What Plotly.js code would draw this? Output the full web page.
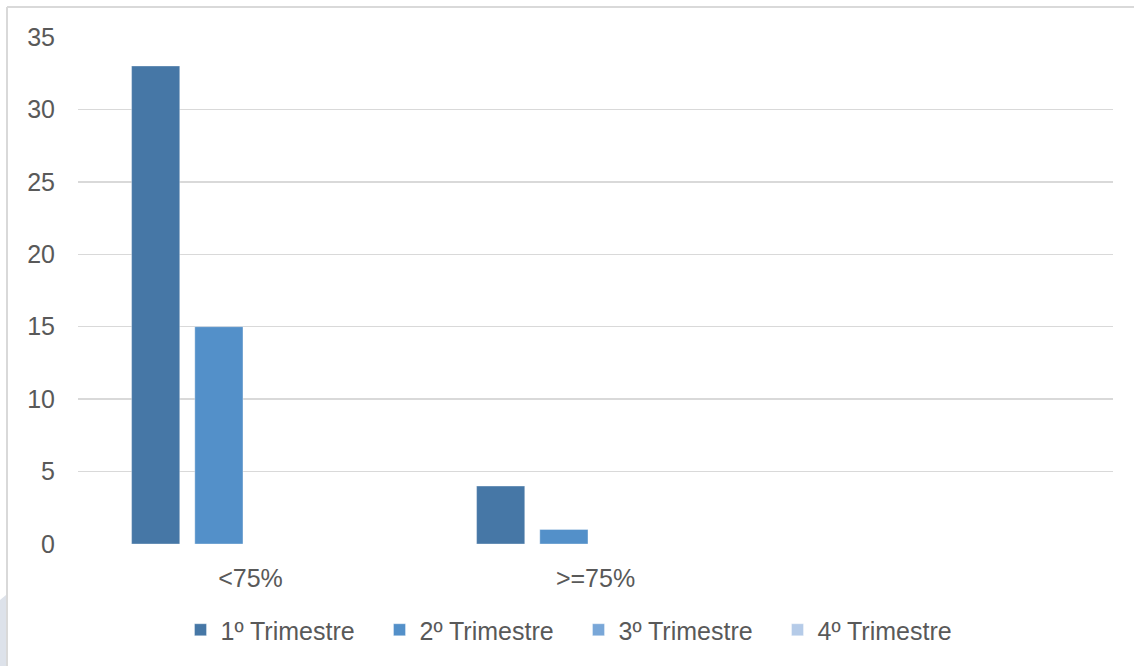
<!DOCTYPE html>
<html>
<head>
<meta charset="utf-8">
<script src="https://cdn.plot.ly/plotly-3.0.1.min.js"></script>
<style>
  html, body { margin: 0; padding: 0; background: #ffffff; }
  #chart { width: 1134px; height: 666px; }
</style>
</head>
<body>
<div id="chart"></div>
<script>
const categories = ["<75%", ">=75%"];
const seriesNames = ["1º Trimestre", "2º Trimestre", "3º Trimestre", "4º Trimestre"];
const trim1 = [33, 4];
const trim2 = [15, 1];
const trim3 = [0, 0];
const trim4 = [0, 0];
const colors = ["#4677A6", "#5390C9", "#79A7D8", "#B5CBE8"];

const values = [trim1, trim2, trim3, trim4];
const traces = values.map((v, i) => ({
  type: "bar",
  name: seriesNames[i],
  x: categories,
  y: v,
  marker: { color: colors[i], line: { color: "rgba(255,255,255,0.35)", width: 1 } },
  hoverinfo: "x+y+name"
}));

const L = 78, R = 21, T = 37, B = 122;
const W = 1134 - L - R, H = 666 - T - B;
function px2x(p) { return (p - L) / W; }
function py2y(p) { return (T + H - p) / H; }

const layout = {
  width: 1134,
  height: 666,
  margin: { l: L, r: R, t: T, b: B },
  paper_bgcolor: "#ffffff",
  plot_bgcolor: "#ffffff",
  barmode: "group",
  bargap: 0.267,
  bargroupgap: 0.238,
  font: { family: "Liberation Sans, Arial, sans-serif", size: 25, color: "#595959" },
  xaxis: {
    type: "category",
    range: [-0.5, 2.5],
    showgrid: false,
    zeroline: false,
    showline: false,
    ticks: "outside",
    ticklen: 12,
    tickcolor: "rgba(0,0,0,0)",
    tickfont: { size: 25, color: "#595959" }
  },
  yaxis: {
    range: [0, 35],
    dtick: 5,
    tick0: 0,
    showgrid: true,
    gridcolor: "#d9d9d9",
    gridwidth: 1.5,
    zeroline: false,
    showline: false,
    ticks: "outside",
    ticklen: 17,
    tickcolor: "rgba(0,0,0,0)",
    tickfont: { size: 25, color: "#595959" }
  },
  showlegend: true,
  legend: {
    orientation: "h",
    x: 0.5 - 17 / W,
    xanchor: "center",
    y: py2y(630),
    yanchor: "middle",
    entrywidth: 154,
    font: { size: 25, color: "#595959" },
    itemclick: false,
    traceorder: "normal"
  },
  shapes: [
    {
      type: "line", xref: "paper", yref: "paper",
      x0: px2x(7), x1: px2x(1140), y0: py2y(7), y1: py2y(7),
      line: { color: "#d9d9d9", width: 2 }
    },
    {
      type: "line", xref: "paper", yref: "paper",
      x0: px2x(7), x1: px2x(7), y0: py2y(7), y1: py2y(670),
      line: { color: "#d9d9d9", width: 2 }
    },
    {
      type: "path", xref: "paper", yref: "paper",
      path: "M " + px2x(0) + "," + py2y(600) + " L " + px2x(6) + "," + py2y(595) +
            " L " + px2x(6) + "," + py2y(670) + " L " + px2x(0) + "," + py2y(670) + " Z",
      fillcolor: "#dde2ea",
      line: { width: 0 }
    }
  ]
};

Plotly.newPlot("chart", traces, layout, { displayModeBar: false, staticPlot: true });
</script>
</body>
</html>
